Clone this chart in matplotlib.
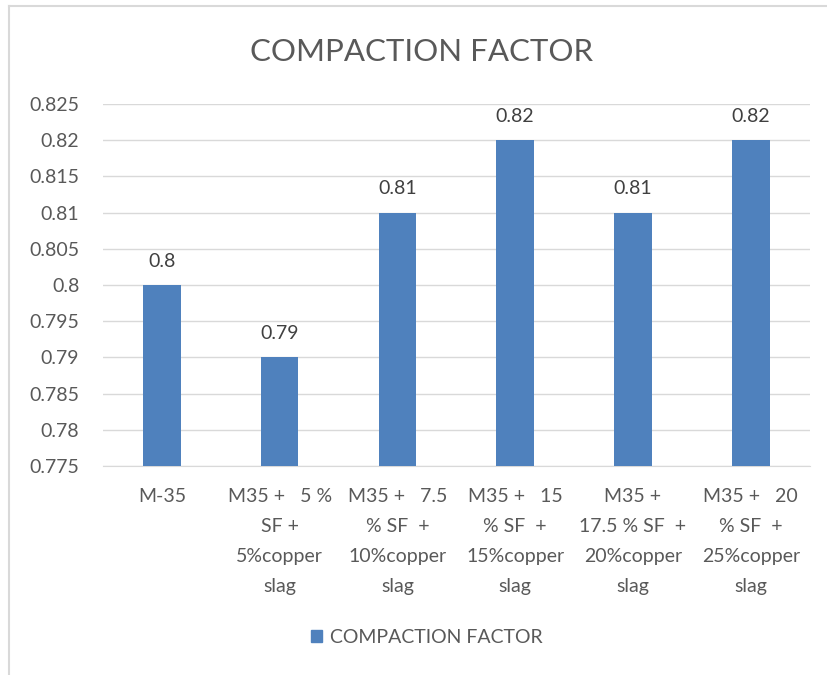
import matplotlib
matplotlib.use('Agg')
import matplotlib.pyplot as plt
from matplotlib.patches import Rectangle
from matplotlib.lines import Line2D

categories = [
    "M-35",
    "M35 +   5 %\nSF +\n5%copper\nslag",
    "M35 +   7.5\n% SF  +\n10%copper\nslag",
    "M35 +   15\n% SF  +\n15%copper\nslag",
    "M35 +\n17.5 % SF  +\n20%copper\nslag",
    "M35 +   20\n% SF  +\n25%copper\nslag",
]
values = [0.80, 0.79, 0.81, 0.82, 0.81, 0.82]
yticks = [0.775, 0.78, 0.785, 0.79, 0.795, 0.8, 0.805, 0.81, 0.815, 0.82, 0.825]
ytick_labels = ["0.775", "0.78", "0.785", "0.79", "0.795", "0.8",
                "0.805", "0.81", "0.815", "0.82", "0.825"]
series_name = "COMPACTION FACTOR"

bar_color = "#4F81BD"
text_color = "#595959"
grid_color = "#D9D9D9"

plt.rcParams['font.family'] = ['Lato', 'DejaVu Sans']

fig = plt.figure(figsize=(8.27, 6.75), dpi=100)
ax = fig.add_axes([0.1245, 0.3096, 0.8545, 0.5364])

x = list(range(len(categories)))
bars = ax.bar(x, values, width=0.32, color=bar_color, zorder=3,
              bottom=0, label=series_name)
ax.set_ylim(0.775, 0.825)
ax.set_xlim(-0.5, len(categories) - 0.5)

for xi, v in zip(x, values):
    ax.text(xi, v + 0.0021, f"{v:g}", ha="center", va="bottom",
            fontsize=14, color="#404040")

ax.set_yticks(yticks)
ax.set_yticklabels(ytick_labels)
ax.yaxis.grid(True, color=grid_color, linewidth=1, zorder=0)
ax.tick_params(axis="y", length=0, pad=17, labelsize=14, labelcolor=text_color)

ax.set_xticks(x)
ax.set_xticklabels(categories, linespacing=1.92)
ax.tick_params(axis="x", length=0, pad=16, labelsize=14, labelcolor=text_color)

for side in ["top", "right", "left"]:
    ax.spines[side].set_visible(False)
ax.spines["bottom"].set_color(grid_color)

fig.text(0.51, 0.923, "COMPACTION FACTOR", ha="center", va="center",
         fontsize=22.5, color=text_color)

# chart frame (left and top edges)
fig.add_artist(Line2D([8.5 / 827, 8.5 / 827], [0, 1 - 5.5 / 675],
                      color=grid_color, linewidth=1.5))
fig.add_artist(Line2D([8.5 / 827, 1], [1 - 5.5 / 675, 1 - 5.5 / 675],
                      color=grid_color, linewidth=1.5))

handle = Rectangle((0, 0), 1, 1, color=bar_color)
fig.legend([handle], [series_name], loc="center", bbox_to_anchor=(0.516, 0.056),
           frameon=False, fontsize=14, labelcolor=text_color,
           handlelength=0.6, handleheight=0.6, handletextpad=0.4)

fig.savefig("out.png", dpi=100, facecolor="white")
